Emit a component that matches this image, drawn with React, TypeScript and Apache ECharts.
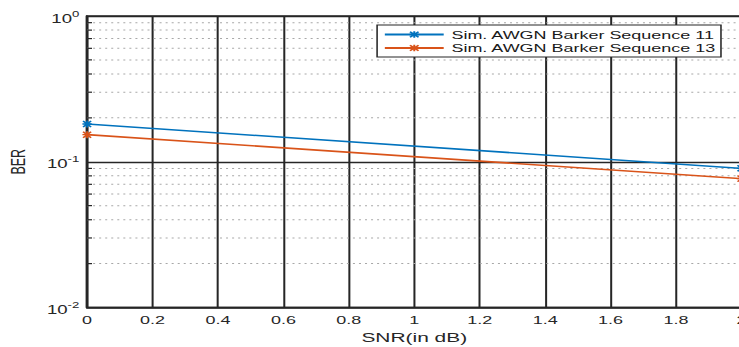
import React, { useEffect, useRef } from "react";
import * as echarts from "echarts";

// ---- data ----
const snrDb = [0, 2];
const berBarker11 = [0.1816, 0.0901];
const berBarker13 = [0.1534, 0.0766];
const minorGridValues = [
  0.02, 0.03, 0.04, 0.05, 0.06, 0.07, 0.08, 0.09,
  0.2, 0.3, 0.4, 0.5, 0.6, 0.7, 0.8, 0.9,
];
const seriesNames = ["Sim. AWGN Barker Sequence 11", "Sim. AWGN Barker Sequence 13"];
const xTickStep = 0.2;

const STRETCH = 739 / 477;
const FONT = "'Liberation Sans', Arial, Helvetica, sans-serif";
const INK = "#262626";
const ASTERISK =
  "path://M4,0H6V10H4Z M0,4H10V6H0Z M1.4,0L10,8.6L8.6,10L0,1.4Z M8.6,0L10,1.4L1.4,10L0,8.6Z";

export default function App() {
  const ref = useRef<HTMLDivElement>(null);

  useEffect(() => {
    if (!ref.current) return;
    const chart = echarts.init(ref.current, undefined, { renderer: "svg" });

    const mk = (vals: number[]) => snrDb.map((x, i) => [x, vals[i]]);

    chart.setOption({
      animation: false,
      backgroundColor: "#ffffff",
      textStyle: { fontFamily: FONT },
      grid: {
        left: 56.2,
        right: -1.6,
        top: 16,
        bottom: 39.5,
        containLabel: false,
        outerBoundsMode: "none",
        show: true,
        borderColor: INK,
        borderWidth: 1.3,
        backgroundColor: "transparent",
      },
      legend: {
        left: 243.4,
        top: 25,
        orient: "vertical",
        data: seriesNames,
        itemWidth: 38,
        itemHeight: 8,
        itemGap: 1.5,
        padding: [3.5, 3, 3, 4],
        backgroundColor: "#ffffff",
        borderColor: INK,
        borderWidth: 1,
        borderRadius: 0,
        textStyle: { fontSize: 11.6, color: "#1a1a1a", fontFamily: FONT },
      },
      xAxis: {
        type: "value",
        min: 0,
        max: 2,
        interval: xTickStep,
        name: "SNR(in dB)",
        nameLocation: "middle",
        nameGap: 22,
        nameTextStyle: { fontSize: 13.5, color: INK, fontFamily: FONT },
        axisLine: { show: true, lineStyle: { color: INK, width: 1.5 } },
        axisTick: { show: false },
        axisLabel: { fontSize: 11.6, color: INK, margin: 6, fontFamily: FONT },
        splitLine: { show: true, lineStyle: { color: INK, width: 1.3 } },
      },
      yAxis: {
        type: "log",
        logBase: 10,
        min: 0.01,
        max: 1,
        name: "BER",
        nameLocation: "middle",
        nameRotate: 90,
        nameGap: 38,
        nameTextStyle: { fontSize: 12.5, color: INK, fontFamily: FONT },
        axisLine: { show: true, lineStyle: { color: INK, width: 1.5 } },
        axisTick: { show: false },
        splitLine: { show: true, lineStyle: { color: INK, width: 1.3 } },
        axisLabel: {
          margin: 5,
          formatter: (v: number) => {
            const e = Math.round(Math.log10(v));
            return "{b|10}{s|" + e + "}";
          },
          rich: {
            b: { fontSize: 12, color: INK, fontFamily: FONT, padding: [5, 0, 0, 0] },
            s: { fontSize: 8.5, color: INK, fontFamily: FONT, padding: [0, 0, 5, 0] },
          },
        },
      },
      series: [
        {
          type: "custom",
          silent: true,
          z: 1,
          data: minorGridValues.map((v) => [0, v]),
          encode: { x: 0, y: 1 },
          renderItem: (params: any, api: any) => {
            const cs = params.coordSys;
            const y = api.coord([0, api.value(1)])[1];
            return {
              type: "group",
              children: [
                {
                  type: "line",
                  shape: { x1: cs.x, y1: y, x2: cs.x + cs.width, y2: y },
                  style: { stroke: "#a8a8a8", lineWidth: 1, lineDash: [1.3, 2.6] },
                },
                {
                  type: "line",
                  shape: { x1: cs.x, y1: y, x2: cs.x + 3.2, y2: y },
                  style: { stroke: INK, lineWidth: 1.2 },
                },
              ],
            };
          },
        },
        {
          name: seriesNames[0],
          type: "line",
          z: 5,
          data: mk(berBarker11),
          symbol: ASTERISK,
          symbolSize: [6, 7],
          color: "#0072BD",
          itemStyle: { color: "#0072BD" },
          lineStyle: { color: "#0072BD", width: 1.6 },
        },
        {
          name: seriesNames[1],
          type: "line",
          z: 5,
          data: mk(berBarker13),
          symbol: ASTERISK,
          symbolSize: [6, 7],
          color: "#D95319",
          itemStyle: { color: "#D95319" },
          lineStyle: { color: "#D95319", width: 1.6 },
        },
      ],
    });

    return () => chart.dispose();
  }, []);

  return (
    <div
      style={{
        position: "fixed",
        left: 0,
        top: 0,
        width: 739,
        height: 347,
        overflow: "hidden",
        background: "#fff",
      }}
    >
      <div
        ref={ref}
        style={{
          width: 477,
          height: 347,
          transform: `scaleX(${STRETCH})`,
          transformOrigin: "0 0",
        }}
      />
    </div>
  );
}
